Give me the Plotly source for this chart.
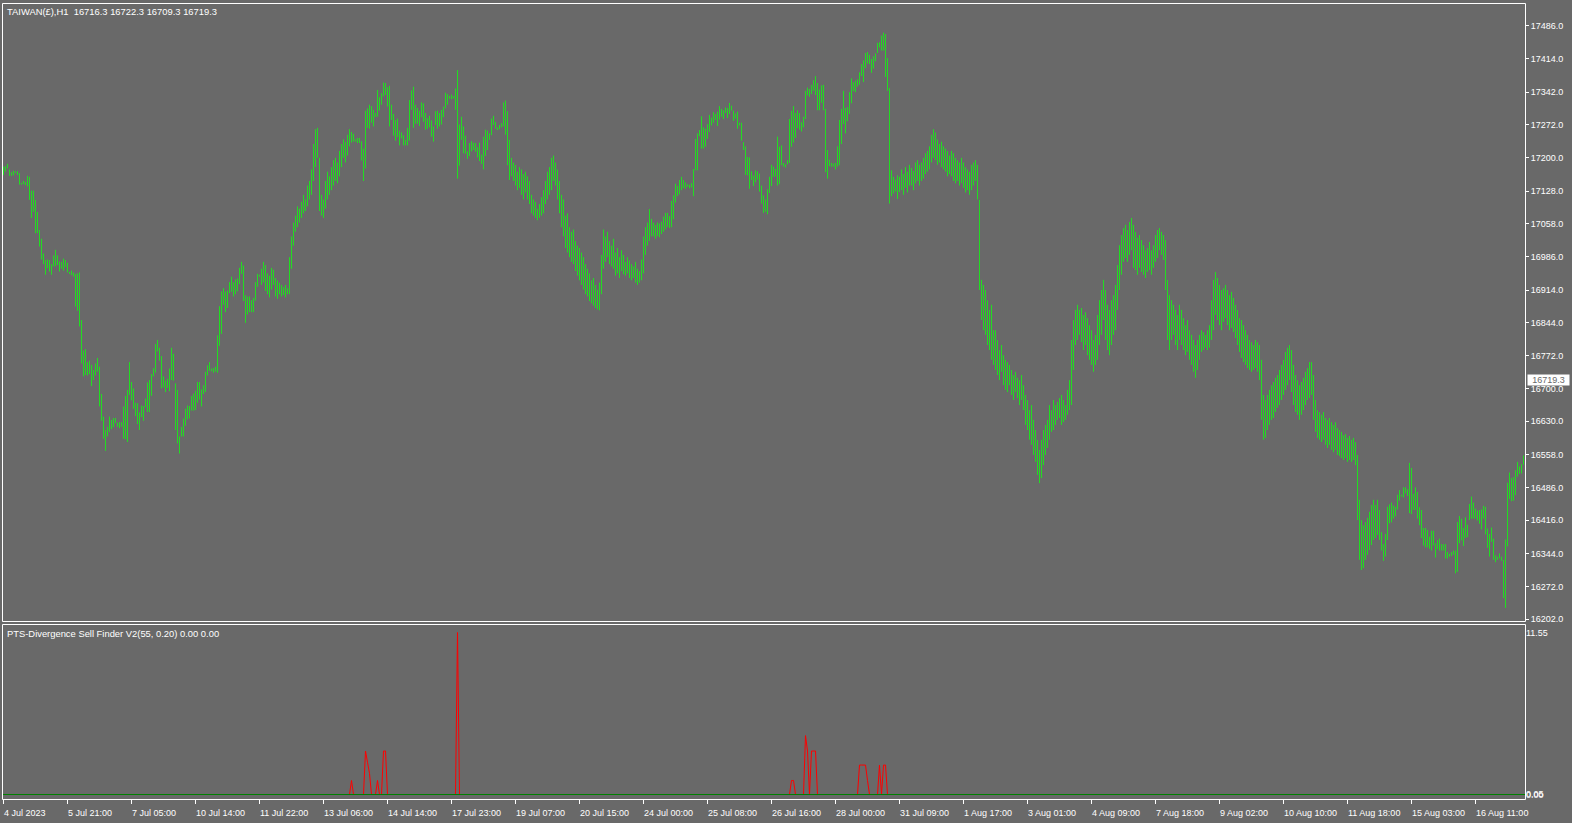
import plotly.graph_objects as go

# ---------------- data ----------------
title_main = "TAIWAN(£),H1  16716.3 16722.3 16709.3 16719.3"
title_ind = "PTS-Divergence Sell Finder V2(55, 0.20) 0.00 0.00"
last_price = 16719.3

date_labels = ["4 Jul 2023", "5 Jul 21:00", "7 Jul 05:00", "10 Jul 14:00", "11 Jul 22:00",
               "13 Jul 06:00", "14 Jul 14:00", "17 Jul 23:00", "19 Jul 07:00", "20 Jul 15:00",
               "24 Jul 00:00", "25 Jul 08:00", "26 Jul 16:00", "28 Jul 00:00", "31 Jul 09:00",
               "1 Aug 17:00", "3 Aug 01:00", "4 Aug 09:00", "7 Aug 18:00", "9 Aug 02:00",
               "10 Aug 10:00", "11 Aug 18:00", "15 Aug 03:00", "16 Aug 11:00"]
bars_per_label = 32

price_ticks = [17486.0, 17414.0, 17342.0, 17272.0, 17200.0, 17128.0, 17058.0, 16986.0,
               16914.0, 16844.0, 16772.0, 16700.0, 16630.0, 16558.0, 16486.0, 16416.0,
               16344.0, 16272.0, 16202.0]

ind_ticks = [11.55, 0.05, 0.00]
ind_tick_text = ["11.55", "0.05", "0.00"]

highs = [
 17181,17182,17187,17175,17169,17172,17171,17171,17167,17146,
 17150,17148,17161,17159,17129,17129,17109,17083,17044,17025,
 16993,16979,16980,16979,16970,16989,17001,16989,16976,16975,
 16982,16979,16973,16953,16956,16952,16949,16950,16952,16849,
 16783,16786,16758,16761,16752,16741,16755,16767,16748,16689,
 16640,16611,16618,16640,16633,16637,16637,16627,16628,16628,
 16662,16685,16698,16758,16715,16701,16670,16669,16649,16664,
 16663,16679,16714,16719,16732,16745,16797,16806,16789,16771,
 16727,16718,16722,16744,16789,16776,16712,16698,16597,16618,
 16636,16657,16664,16663,16685,16690,16696,16715,16715,16699,
 16708,16737,16751,16758,16744,16745,16748,16816,16879,16911,
 16918,16911,16913,16931,16943,16931,16937,16939,16962,16975,
 16967,16903,16900,16900,16892,16897,16931,16949,16947,
 16960,16975,16968,16950,16945,16962,16958,16940,16935,16930,
 16925,16920,16925,16918,16985,17030,17060,17075,17095,17090,
 17105,17120,17110,17140,17150,17175,17230,17262,17265,17200,
 17120,17110,17150,17170,17160,17180,17195,17200,17190,17215,
 17230,17240,17235,17250,17262,
 17256,17252,17240,17243,17243,17236,17220,17302,17307,17315,
 17312,17304,17297,17347,17331,17340,17363,17362,17353,17356,
 17315,17295,17282,17285,17259,17255,17249,17239,17265,17325,
 17346,17354,17315,17308,17302,17320,17318,17297,17286,17291,
 17281,17268,17301,17302,17297,17304,17311,17341,17338,17334,
 17337,17334,17350,17390,17272,17289,17268,17248,17214,17232,
 17236,17233,17232,17223,17233,17207,17246,17261,17259,17253,
 17285,17291,17278,17266,17271,17275,17320,17324,17301,17239,
 17200,17190,17185,17170,17180,17175,17165,17170,17160,17150,
 17120,17110,17105,17090,17100,17115,17130,17150,17170,17180,
 17200,17205,17190,17175,
 17150,17120,17110,17075,17080,17050,17040,17045,17020,17010,
 17005,16995,16985,16970,16960,16950,16935,16940,16925,16915,
 16930,16990,17045,17030,17040,17020,17010,17025,16995,17005,
 16985,17000,16990,16975,16985,16978,16970,16965,16975,16960,
 16955,16980,17030,17050,17060,
 17089,17068,17060,17055,17060,17058,17062,17073,17081,17081,17074,17107,17119,
 17144,17139,17152,17159,17152,17147,17143,17142,17145,17176,
 17241,17253,17260,17290,17266,17263,17273,17293,17287,17299,
 17295,17300,17312,17306,17303,17309,17308,17319,17313,17302,
 17296,17300,17276,17276,17234,17225,17202,17201,17171,17162,
 17173,17171,17166,17140,17119,17110,17132,17159,17185,17181,
 17176,17246,17224,17227,17189,17186,17195,17284,17302,17312,
 17297,17303,17297,17277,17289,17345,17352,17349,17358,17368,
 17377,17362,17348,17357,17358,17306,17217,17196,17189,17188,
 17189,17225,17282,17306,17345,17308,17310,17342,17372,17364,
 17367,17370,17385,17403,17411,17427,17429,17423,17414,17420,
 17426,17449,17450,17465,17471,17468,17416,17351,17173,17159,
 17153,17162,17159,
 17175,17165,17180,17170,17185,17178,17172,17190,17195,17185,
 17190,17200,17210,17215,17225,17250,17262,17255,17240,17230,
 17235,17225,17220,17215,17205,17215,17210,17200,17195,17190,
 17200,17190,17180,17175,17170,17185,17190,17195,
 17185,17109,16936,16925,16914,16892,16871,16882,16827,16827,
 16806,16784,16795,16773,16763,16758,16752,16741,16730,16737,
 16724,16719,16730,16708,16687,16676,16654,16665,16633,16611,
 16590,16568,16590,16611,16622,16633,16665,16654,16676,16665,
 16672,16680,16687,16676,16665,16698,16719,16806,16849,16871,
 16882,16871,16875,16860,16866,16853,16838,16827,16806,16817,
 16860,16892,16914,16936,16914,16882,16871,16892,16903,16925,
 16968,17011,17033,17048,17055,17044,17061,17070,17055,17040,
 17027,17033,17022,17011,17000,17005,17018,17000,17011,17033,
 17044,17048,17040,17033,17022,16936,16903,16892,16882,16871,
 16860,16882,16871,16853,16838,16849,16827,16817,16806,16795,
 16806,16817,16827,16823,16817,16827,16838,16892,16936,16953,
 16940,16925,16914,16918,16925,16914,16903,16910,16897,16882,
 16871,16853,16849,16838,16827,16817,16806,16801,16795,16806,
 16801,16795,16763,16687,16676,16687,16698,16708,16715,16724,
 16730,16741,16752,16763,16780,16789,16795,16784,16752,16730,
 16719,16708,16715,16724,16737,16745,16758,16758,16730,16676,
 16654,16650,16644,16650,16637,16633,16637,16628,16622,16628,
 16615,16611,16607,16600,16602,16594,16598,16590,16594,16585,
 16557,16460,16416,16405,16412,16421,16434,16449,16460,16449,16460,16438,
 16390,16364,16386,16445,16450,16454,16448,16445,16471,16481,
 16471,16487,16487,16483,16540,16529,16473,16487,16477,16444,
 16438,16399,16399,16395,16380,16393,16393,16366,16373,16376,
 16364,16364,16364,16347,16343,16347,16350,16350,16412,16425,
 16419,16399,16422,16406,16451,16467,16454,16441,16437,16438,
 16439,16447,16445,16398,16386,16400,16376,16340,16337,16344,
 16337,16330,16374,16497,16519,16507,16509,16524,16542,16532,
 16537,16556]

lows = [
 17163,17170,17177,17161,17161,17162,17167,17163,17142,17142,
 17143,17141,17138,17109,17070,17083,17037,17037,17008,16980,
 16970,16947,16961,16954,16947,16965,16965,16968,16954,16960,
 16956,16963,16952,16949,16946,16943,16878,16869,16835,16755,
 16727,16730,16729,16732,16706,16719,16729,16737,16662,16631,
 16592,16566,16597,16607,16613,16617,16626,16618,16615,16618,
 16592,16591,16585,16687,16675,16657,16641,16624,16611,16639,
 16631,16660,16650,16650,16685,16727,16735,16781,16761,16701,
 16703,16693,16702,16695,16719,16718,16611,16582,16560,16597,
 16597,16620,16634,16636,16653,16653,16654,16670,16677,16662,
 16689,16693,16729,16739,16738,16735,16737,16735,16793,16819,
 16882,16866,16875,16907,16910,16900,16905,16911,16927,16949,
 16890,16843,16861,16866,16866,16866,16891,16921,16943,
 16925,16930,16912,16905,16898,16915,16925,16900,16895,16905,
 16900,16903,16898,16905,16905,16960,17010,17040,17050,17060,
 17070,17080,17085,17095,17110,17120,17150,17180,17200,17085,
 17075,17070,17090,17110,17120,17130,17140,17150,17145,17160,
 17180,17200,17190,17205,17225,
 17233,17235,17235,17232,17232,17194,17150,17177,17265,17263,
 17276,17268,17288,17289,17302,17315,17333,17336,17311,17268,
 17282,17248,17237,17245,17227,17242,17227,17227,17227,17237,
 17304,17265,17274,17274,17269,17288,17278,17261,17263,17266,
 17246,17235,17271,17263,17268,17272,17288,17307,17315,17328,
 17327,17328,17304,17155,17183,17239,17210,17209,17198,17204,
 17214,17217,17213,17201,17193,17187,17175,17204,17217,17239,
 17249,17271,17263,17260,17262,17266,17268,17250,17184,17152,
 17160,17150,17140,17130,17135,17120,17110,17125,17110,17100,
 17080,17075,17070,17065,17070,17075,17080,17100,17110,17120,
 17130,17150,17140,17110,
 17080,17050,17030,17005,16995,16985,16975,16970,16955,16945,
 16935,16925,16915,16905,16900,16890,16885,16880,16875,16872,
 16870,16905,16960,16975,16985,16970,16965,16960,16945,16950,
 16940,16955,16948,16945,16950,16940,16935,16940,16930,16925,
 16930,16935,16950,16990,17010,
 17020,17030,17030,17025,17030,17028,17035,17040,17045,17050,17048,17050,17067,
 17103,17117,17121,17130,17134,17133,17137,17134,17136,17117,
 17173,17173,17247,17220,17220,17224,17241,17256,17270,17276,
 17282,17269,17283,17289,17284,17297,17286,17295,17302,17280,
 17285,17263,17270,17237,17217,17163,17162,17133,17152,17139,
 17147,17153,17127,17101,17081,17083,17078,17124,17139,17159,
 17159,17140,17143,17184,17181,17179,17186,17189,17224,17233,
 17243,17264,17261,17257,17266,17284,17335,17332,17338,17345,
 17336,17303,17303,17319,17303,17169,17155,17182,17181,17181,
 17175,17181,17184,17230,17273,17253,17279,17295,17318,17344,
 17342,17354,17358,17377,17364,17394,17404,17403,17384,17393,
 17409,17427,17439,17432,17432,17375,17345,17101,17117,17123,
 17127,17111,17126,
 17130,17120,17135,17125,17140,17140,17130,17145,17150,17140,
 17150,17155,17165,17170,17175,17190,17200,17195,17185,17190,
 17180,17175,17170,17160,17165,17160,17150,17145,17150,17140,
 17145,17135,17125,17130,17120,17130,17140,17150,
 17110,16914,16849,16827,16817,16795,16784,16763,16752,16741,
 16730,16719,16737,16708,16698,16693,16708,16687,16676,16693,
 16680,16665,16676,16654,16622,16611,16590,16579,16557,16542,
 16514,16496,16507,16535,16557,16572,16590,16607,16611,16622,
 16633,16637,16622,16628,16633,16644,16654,16665,16741,16795,
 16806,16817,16801,16784,16795,16773,16763,16752,16737,16752,
 16763,16795,16817,16849,16806,16784,16773,16795,16817,16827,
 16871,16914,16947,16975,16983,16975,16990,17000,16962,16957,
 16947,16962,16953,16947,16940,16953,16957,16947,16962,16975,
 16983,17000,16990,16979,16914,16806,16784,16806,16817,16795,
 16784,16806,16795,16784,16773,16780,16763,16752,16737,16724,
 16741,16763,16780,16784,16789,16784,16789,16806,16827,16860,
 16849,16838,16827,16845,16853,16838,16827,16832,16823,16810,
 16795,16780,16767,16758,16752,16745,16741,16737,16741,16745,
 16737,16719,16633,16590,16594,16611,16622,16633,16637,16650,
 16659,16665,16676,16687,16698,16708,16719,16693,16665,16650,
 16644,16633,16644,16654,16665,16676,16680,16687,16633,16607,
 16594,16590,16585,16590,16579,16572,16579,16568,16563,16568,
 16557,16555,16550,16546,16550,16542,16546,16542,16546,16535,
 16416,16330,16308,16312,16330,16341,16351,16362,16373,16377,16384,16373,
 16350,16328,16337,16373,16409,16411,16419,16424,16439,16458,
 16467,16465,16474,16468,16431,16429,16438,16438,16419,16405,
 16377,16361,16357,16357,16354,16350,16361,16335,16353,16350,
 16350,16350,16333,16333,16337,16338,16341,16301,16304,16366,
 16372,16360,16377,16379,16416,16419,16419,16419,16415,16408,
 16396,16419,16385,16356,16337,16369,16330,16325,16330,16333,
 16328,16247,16226,16359,16462,16457,16458,16470,16510,16516,
 16517,16536]

# indicator (non-zero bars only; every other bar is 0)
signal_bars = [174, 181, 182, 183, 187, 190, 191, 227, 394, 395, 401, 402, 404, 405, 406,
               428, 429, 430, 431, 432, 438, 440, 441]
signal_vals = [1.0, 3.1, 2.3, 1.5, 1.0, 3.1, 3.1, 11.55, 1.0, 1.0, 4.2, 3.1, 3.1, 3.1, 3.1,
               2.1, 2.1, 2.1, 2.1, 1.0, 2.1, 2.1, 2.1]

# ---------------- styling ----------------
W, H = 1572, 823
BG = "#696969"
BAR = "#22dd22"
FONT = "Liberation Sans, Arial, sans-serif"


def px_x(p):
    return p / W


def px_y(p):
    return 1 - p / H


n = min(len(highs), len(lows))
bx, by = [], []
for i in range(n):
    bx += [i, i, None]
    by += [lows[i], highs[i], None]

sig = [0.0] * n
for b, v in zip(signal_bars, signal_vals):
    if b < n:
        sig[b] = v
sig_plot = []
for i in range(n):
    near = any(sig[j] != 0 for j in range(max(0, i - 1), min(n, i + 2)))
    sig_plot.append(sig[i] if near else None)

fig = go.Figure()
fig.add_trace(go.Scatter(x=bx, y=by, mode="lines", line=dict(color=BAR, width=1),
                         hoverinfo="skip", xaxis="x", yaxis="y"))
fig.add_trace(go.Scatter(x=list(range(n)), y=sig_plot, mode="lines", connectgaps=False,
                         line=dict(color="#ff0000", width=1), hoverinfo="skip",
                         xaxis="x", yaxis="y2"))
fig.add_trace(go.Scatter(x=[-1, n], y=[0, 0], mode="lines",
                         line=dict(color="#008000", width=1), hoverinfo="skip",
                         xaxis="x", yaxis="y2"))

# axis geometry (pixels)
x_left, x_right = 3, 1525
p_top, p_bot = 4, 621
i_top, i_bot = 625, 799
price_per_px = (17486.0 - 16202.0) / (619.0 - 25.7)
p_hi = 17486.0 + (25.7 - p_top) * price_per_px
p_lo = 16202.0 - (p_bot - 619.0) * price_per_px
zero_px, top_px = 794.5, 632.5
ind_px_per_unit = (zero_px - top_px) / 11.55
i_hi = (zero_px - i_top) / ind_px_per_unit
i_lo = -(i_bot - zero_px) / ind_px_per_unit
bar_px = 2.0
x_range = [-(0.5 / bar_px), -(0.5 / bar_px) + (x_right - x_left) / bar_px]

tick_font = dict(family=FONT, size=9, color="white")

fig.update_layout(
    width=W, height=H, autosize=False,
    margin=dict(l=0, r=0, t=0, b=0, pad=0),
    paper_bgcolor=BG, plot_bgcolor=BG,
    showlegend=False, hovermode=False,
    font=dict(family=FONT, size=9, color="white"),
    xaxis=dict(domain=[px_x(x_left), px_x(x_right)], range=x_range, anchor="y2",
               showgrid=False, zeroline=False, showline=False, automargin=False,
               tickmode="array",
               tickvals=[k * bars_per_label for k in range(len(date_labels))],
               ticktext=date_labels, ticks="outside", ticklen=4, tickcolor="white",
               tickwidth=1, ticklabelposition="outside right", ticklabelstandoff=5,
               tickfont=tick_font),
    yaxis=dict(domain=[px_y(p_bot), px_y(p_top)], range=[p_lo, p_hi], side="right",
               anchor="x", showgrid=False, zeroline=False, showline=False, automargin=False,
               tickmode="array", tickvals=price_ticks,
               ticktext=[f"{v:.1f}" for v in price_ticks],
               ticks="outside", ticklen=3, tickcolor="white", tickfont=tick_font),
    yaxis2=dict(domain=[px_y(i_bot), px_y(i_top)], range=[i_lo, i_hi], side="right",
                anchor="x", showgrid=False, zeroline=False, showline=False, automargin=False,
                tickmode="array", tickvals=ind_ticks, ticktext=ind_tick_text,
                ticks="", tickfont=tick_font),
)

frame = dict(type="rect", xref="paper", yref="paper", line=dict(color="white", width=1),
             fillcolor="rgba(0,0,0,0)", layer="above")
fig.add_shape(**frame, x0=px_x(2.5), x1=px_x(1525.5), y0=px_y(621.5), y1=px_y(3.5))
fig.add_shape(**frame, x0=px_x(2.5), x1=px_x(1525.5), y0=px_y(799.5), y1=px_y(624.5))

fig.add_annotation(text=title_main, xref="paper", yref="paper", x=px_x(6), y=px_y(11.5),
                   xanchor="left", yanchor="middle", showarrow=False, borderpad=0,
                   font=dict(family=FONT, size=9.4, color="white"))
fig.add_annotation(text=title_ind, xref="paper", yref="paper", x=px_x(6), y=px_y(633),
                   xanchor="left", yanchor="middle", showarrow=False, borderpad=0,
                   font=dict(family=FONT, size=9.4, color="white"))
fig.add_annotation(text=f"{last_price:.1f}", xref="paper", yref="y", x=px_x(1527),
                   y=last_price, xanchor="left", yanchor="middle", showarrow=False,
                   bgcolor="white", borderpad=0, width=41, height=10, align="center",
                   font=dict(family=FONT, size=9, color=BG))

post = ("var gd=document.getElementById('{plot_id}');"
        "gd.style.position='fixed';gd.style.left='0px';gd.style.top='0px';"
        "document.body.style.margin='0';document.body.style.overflow='hidden';"
        "document.documentElement.style.overflow='hidden';")
fig.write_html("out.html", config={"displayModeBar": False, "staticPlot": True},
               post_script=post)
